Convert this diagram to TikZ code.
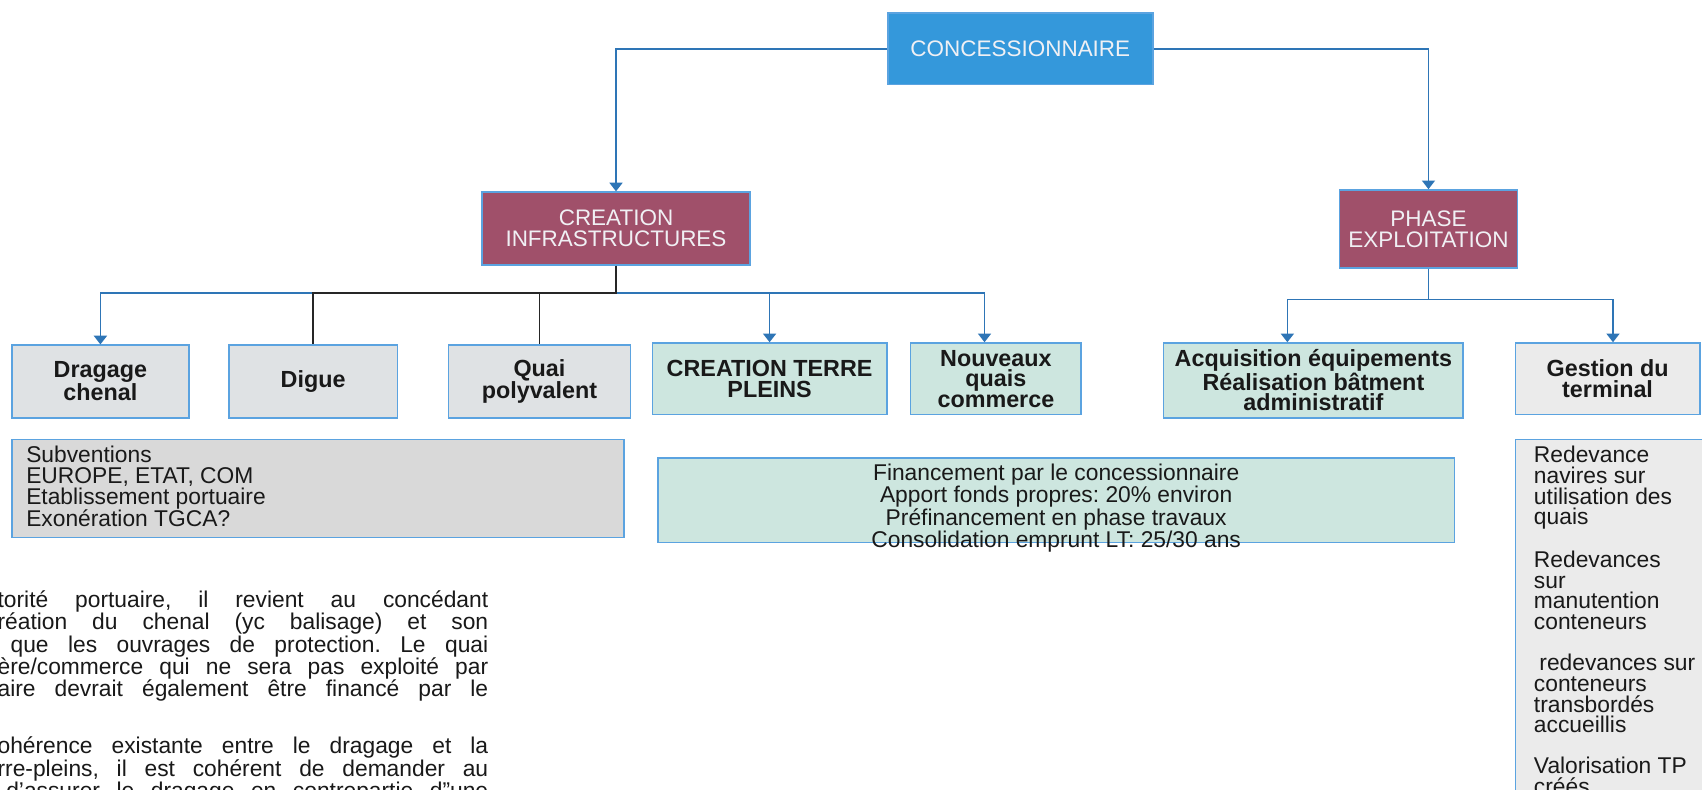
\documentclass[tikz,border=0pt]{standalone}
\usepackage{fontspec}
\setmainfont{Liberation Sans}
\usetikzlibrary{arrows.meta,calc}
\frenchspacing
\definecolor{conblue}{RGB}{52,152,219}
\definecolor{maroonc}{RGB}{160,80,106}
\definecolor{bord}{RGB}{91,163,224}
\definecolor{linec}{RGB}{46,117,182}
\definecolor{grayA}{RGB}{223,226,228}
\definecolor{grayB}{RGB}{217,217,217}
\definecolor{tealc}{RGB}{205,230,223}
\definecolor{grayC}{RGB}{235,235,235}
\definecolor{txt}{RGB}{25,25,25}
\definecolor{lighttxt}{RGB}{240,240,244}
\begin{document}
\begin{tikzpicture}[x=1pt,y=-1pt,
  box/.style={draw=bord, line width=1.4pt, inner sep=0pt, align=center, text=txt},
  topbox/.style={box, fill=conblue, text=lighttxt, font=\fontsize{20.7}{19}\selectfont},
  headbox/.style={box, fill=maroonc, text=lighttxt, font=\fontsize{20.7}{19}\selectfont},
  lvl/.style={box, font=\fontsize{21.5}{19}\selectfont\bfseries},
  conn/.style={draw=linec, line width=1.5pt},
  arr/.style={conn, -{Triangle[width=12pt,length=8pt]}},
  blk/.style={draw=black!85, line width=1.5pt},
  para/.style={anchor=base east, inner sep=0pt, text=txt, font=\fontsize{21}{21}\selectfont}
]
\clip (0,0) rectangle (1568,727);
\fill[white] (0,0) rectangle (1568,727);

% top level
\node[topbox, minimum width=244pt, minimum height=66pt] (conc) at (940,45) {CONCESSIONNAIRE};
\node[headbox, minimum width=247pt, minimum height=67pt] (ci) at (567.5,210.5) {CREATION\\INFRASTRUCTURES};
\node[headbox, minimum width=164pt, minimum height=72pt] (pe) at (1316,211) {PHASE\\EXPLOITATION};

% second level
\node[lvl, fill=grayA, minimum width=163pt, minimum height=67pt] (drag) at (92.5,351.5) {Dragage\\chenal};
\node[lvl, fill=grayA, minimum width=155pt, minimum height=67pt] (digue) at (288.5,351.5) {Digue};
\node[lvl, fill=grayA, minimum width=168pt, minimum height=67pt] (quai) at (497,351.5) {Quai\\polyvalent};
\node[lvl, fill=tealc, minimum width=216pt, minimum height=66pt] (terre) at (709,349) {CREATION TERRE\\PLEINS};
\node[lvl, fill=tealc, minimum width=157pt, minimum height=66pt] (nouv) at (917.5,349) {Nouveaux\\quais\\commerce};
\node[lvl, fill=tealc, minimum width=276pt, minimum height=69pt] (acq) at (1210,350.5) {Acquisition équipements\\Réalisation bâtment\\administratif};
\node[lvl, fill=grayC, minimum width=170pt, minimum height=66pt] (gest) at (1481,349) {Gestion du\\terminal};

% financing boxes
\draw[draw=bord, line width=1.4pt, fill=grayB] (11,405) rectangle (575,495);
\node[anchor=north west, inner sep=0pt, align=left, text=txt, font=\fontsize{21}{19}\selectfont] (subv) at (24,411)
  {Subventions\\EUROPE, ETAT, COM\\Etablissement portuaire\\Exonération TGCA?};
\draw[draw=bord, line width=1.4pt, fill=tealc] (606,422) rectangle (1340,500);
\node[anchor=north, inner sep=0pt, align=center, text=txt, font=\fontsize{21}{18}\selectfont] (fin) at (973,427)
  {Financement par le concessionnaire\\Apport fonds propres: 20\% environ\\Préfinancement en phase travaux\\Consolidation emprunt LT: 25/30 ans};
\draw[draw=bord, line width=1.4pt, fill=grayC] (1396,405) rectangle (1590,760);
\node[anchor=north west, inner sep=0pt, align=left, text=txt, font=\fontsize{21}{19}\selectfont] (redev) at (1413,411)
  {Redevance\\navires sur\\utilisation des\\quais\\[19pt]Redevances\\sur\\manutention\\conteneurs\\[19pt]\hspace{5pt}redevances sur\\conteneurs\\transbordés\\accueillis\\[19pt]Valorisation TP\\créés};

% connectors
\coordinate (busL) at (0,270);
\coordinate (busR) at (0,276);
\draw[arr] (conc.west) -| (ci.north);
\draw[arr] (conc.east) -| (pe.north);
\draw[arr] (ci.south) |- (busL -| drag.north) -- (drag.north);
\draw[arr] (ci.south) |- (busL -| terre.north) -- (terre.north);
\coordinate (nouvin) at ($(nouv.north)+(-10.5,0)$);
\draw[arr] (ci.south) |- (busL -| nouvin) -- (nouvin);
\draw[blk] (ci.south) |- (busL -| digue.north) -- (digue.north);
\draw[blk] (busL -| quai.north) -- (quai.north);
\coordinate (acqin) at ($(acq.north)+(-24,0)$);
\coordinate (gestin) at ($(gest.north)+(5,0)$);
\draw[arr] (pe.south) |- (busR -| acqin) -- (acqin);
\draw[arr] (pe.south) |- (busR -| gestin) -- (gestin);

% clipped paragraph on the left
\node[para] (p1) at (450,560) {\makebox[452pt][s]{torité portuaire, il revient au concédant}};
\node[para] (p2) at (450,580) {\makebox[452pt][s]{réation du chenal (yc balisage) et son}};
\node[para] (p3) at (450,601) {\makebox[440pt][s]{que les ouvrages de protection. Le quai}};
\node[para] (p4) at (450,621) {\makebox[452pt][s]{ère/commerce qui ne sera pas exploité par}};
\node[para] (p5) at (450,642) {\makebox[452pt][s]{aire devrait également être financé par le}};
\node[para] (p6) at (450,694) {\makebox[452pt][s]{ohérence existante entre le dragage et la}};
\node[para] (p7) at (450,715) {\makebox[452pt][s]{rre-pleins, il est cohérent de demander au}};
\node[para] (p8) at (450,736) {\makebox[444pt][s]{d'assurer le dragage en contrepartie d"une}};
\end{tikzpicture}
\end{document}
